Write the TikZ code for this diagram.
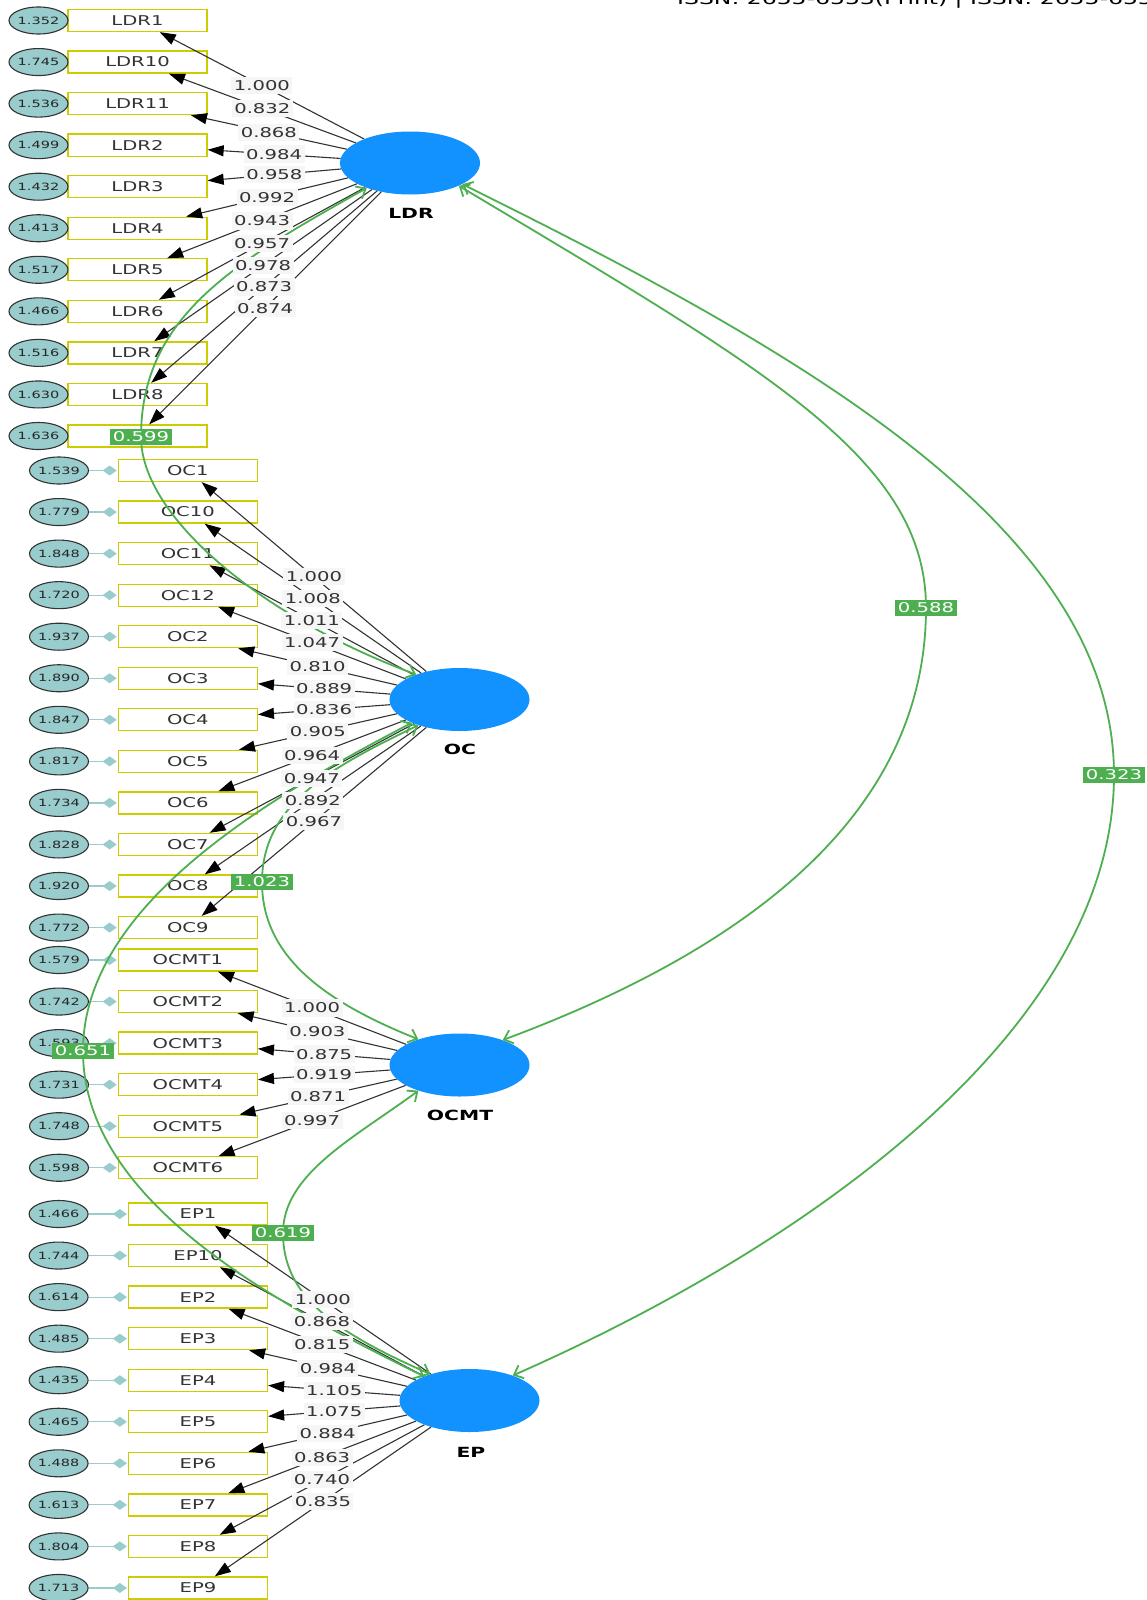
\documentclass[tikz,border=0pt]{standalone}
\usepackage{fontspec}
\setmainfont{DejaVu Sans}[FakeStretch=1.45]
\usetikzlibrary{arrows.meta,shapes.geometric}

\definecolor{latentblue}{RGB}{17,146,255}
\definecolor{covgreen}{RGB}{77,175,80}
\definecolor{boxyellow}{RGB}{204,204,0}
\definecolor{errteal}{RGB}{153,204,204}
\definecolor{inkgray}{RGB}{51,51,51}
\definecolor{lblgray}{RGB}{246,246,246}

\tikzset{
  latent/.style={ellipse, fill=latentblue, minimum width=140pt, minimum height=63pt, inner sep=0pt},
  latname/.style={font=\fontsize{14}{14}\selectfont\bfseries, text=black, inner sep=0pt},
  indbox/.style={rectangle, draw=boxyellow, line width=1.3pt, fill=white, minimum width=139pt,
    minimum height=22pt, inner sep=0pt, text=inkgray, font=\fontsize{13.5}{14}\selectfont},
  errell/.style={ellipse, draw=inkgray, line width=1.1pt, fill=errteal, minimum width=59pt,
    minimum height=27pt, inner sep=0pt, text=black!85, font=\fontsize{10}{10}\selectfont},
  errlink/.style={draw=errteal, line width=1.2pt, -{Diamond[length=14pt,width=10pt,fill=errteal]}, shorten >=1pt},
  loadline/.style={draw=inkgray, line width=1.1pt, -{Triangle[length=16pt,width=11pt,color=black]}},
  loadlbl/.style={fill=lblgray, text=inkgray, inner xsep=2.5pt, inner ysep=3.5pt,
    font=\fontsize{13.5}{14}\selectfont, pos=0.5},
  covline/.style={draw=covgreen, line width=1.8pt,
    {Straight Barb[length=8pt,width=14pt]}-{Straight Barb[length=8pt,width=14pt]}},
  covlbl/.style={fill=covgreen, text=white, inner xsep=3pt, inner ysep=3pt,
    font=\fontsize{13.5}{14}\selectfont},
}

% indicator name / printed text / error variance / loading
\def\ldrlist{ldr1/LDR1/1.352/1.000, ldr10/LDR10/1.745/0.832, ldr11/LDR11/1.536/0.868,
  ldr2/LDR2/1.499/0.984, ldr3/LDR3/1.432/0.958, ldr4/LDR4/1.413/0.992, ldr5/LDR5/1.517/0.943,
  ldr6/LDR6/1.466/0.957, ldr7/LDR7/1.516/0.978, ldr8/LDR8/1.630/0.873, ldr9//1.636/0.874}
\def\oclist{oc1/OC1/1.539/1.000, oc10/OC10/1.779/1.008, oc11/OC11/1.848/1.011,
  oc12/OC12/1.720/1.047, oc2/OC2/1.937/0.810, oc3/OC3/1.890/0.889, oc4/OC4/1.847/0.836,
  oc5/OC5/1.817/0.905, oc6/OC6/1.734/0.964, oc7/OC7/1.828/0.947, oc8/OC8/1.920/0.892,
  oc9/OC9/1.772/0.967}
\def\ocmtlist{ocmt1/OCMT1/1.579/1.000, ocmt2/OCMT2/1.742/0.903, ocmt3/OCMT3/1.593/0.875,
  ocmt4/OCMT4/1.731/0.919, ocmt5/OCMT5/1.748/0.871, ocmt6/OCMT6/1.598/0.997}
\def\eplist{ep1/EP1/1.466/1.000, ep10/EP10/1.744/0.868, ep2/EP2/1.614/0.815,
  ep3/EP3/1.485/0.984, ep4/EP4/1.435/1.105, ep5/EP5/1.465/1.075, ep6/EP6/1.488/0.884,
  ep7/EP7/1.613/0.863, ep8/EP8/1.804/0.740, ep9/EP9/1.713/0.835}

\begin{document}
\begin{tikzpicture}[x=1pt,y=-1pt]
\useasboundingbox (0,0) rectangle (1147,1600);
\fill[white] (0,0) rectangle (1147,1600);

% running header, cut by the top edge
\node[anchor=base west, inner sep=0pt, text=black, font=\fontsize{16.2}{17}\selectfont] (hdr) at (677,5)
  {ISSN: 2655-6553(Print) | ISSN: 2655-655};

% latent variables
\node[latent] (LDR) at (410,163) {};
\node[latname] (LDRname) at (411,213) {LDR};
\node[latent] (OC) at (459.5,699.5) {};
\node[latname] (OCname) at (460,749) {OC};
\node[latent] (OCMT) at (459.5,1065) {};
\node[latname] (OCMTname) at (460,1115) {OCMT};
\node[latent] (EP) at (469.5,1400.5) {};
\node[latname] (EPname) at (471,1452) {EP};

% indicators with their error terms
\foreach \nm/\tx/\ev/\ld [count=\k from 0] in \ldrlist {
  \node[indbox] (\nm) at (137.5,{20.5+41.55*\k}) {\tx};
  \node[errell] (e\nm) at (38.5,{20.5+41.55*\k}) {\ev};
}
\foreach \nm/\tx/\ev/\ld [count=\k from 0] in \oclist {
  \node[indbox] (\nm) at (187.8,{470.5+41.55*\k}) {\tx};
  \node[errell] (e\nm) at (59,{470.5+41.55*\k}) {\ev};
  \draw[errlink] (e\nm) -- (\nm);
}
\foreach \nm/\tx/\ev/\ld [count=\k from 0] in \ocmtlist {
  \node[indbox] (\nm) at (187.8,{960+41.55*\k}) {\tx};
  \node[errell] (e\nm) at (59,{960+41.55*\k}) {\ev};
  \draw[errlink] (e\nm) -- (\nm);
}
\foreach \nm/\tx/\ev/\ld [count=\k from 0] in \eplist {
  \node[indbox] (\nm) at (198,{1214+41.55*\k}) {\tx};
  \node[errell] (e\nm) at (58.6,{1214+41.55*\k}) {\ev};
  \draw[errlink] (e\nm) -- (\nm);
}

% factor loadings
\foreach \nm/\tx/\ev/\ld in \ldrlist {\draw[loadline] (LDR) -- (\nm);}
\foreach \nm/\tx/\ev/\ld in \oclist {\draw[loadline] (OC) -- (\nm);}
\foreach \nm/\tx/\ev/\ld in \ocmtlist {\draw[loadline] (OCMT) -- (\nm);}
\foreach \nm/\tx/\ev/\ld in \eplist {\draw[loadline] (EP) -- (\nm);}

% covariances between latent variables
\draw[covline] (LDR.210) .. controls (233,263) and (141,317) .. (141,437) coordinate (c599)
  .. controls (141,517) and (263,618) .. (OC.150);
\draw[covline] (OC.212) .. controls (332,767) and (262,804) .. (262,882) coordinate (c1023)
  .. controls (262,954) and (320,1000) .. (OCMT.148);
\draw[covline] (OC.206) .. controls (280,792) and (83,901) .. (83,1051) coordinate (c651)
  .. controls (83,1201) and (273,1302) .. (EP.152);
\draw[covline] (OCMT.212) .. controls (354,1138) and (283,1174) .. (283,1233) coordinate (c619)
  .. controls (283,1294) and (330,1330) .. (EP.146);
\draw[covline] (LDR.335) .. controls (763,368) and (926,458) .. (926,608) coordinate (c588)
  .. controls (926,808) and (758,945) .. (OCMT.30);
\draw[covline] (LDR.338) .. controls (793,348) and (1114,525) .. (1114,775) coordinate (c323)
  .. controls (1114,1025) and (818,1241) .. (EP.30);

% loading values
\foreach \nm/\tx/\ev/\ld in \ldrlist {\path (LDR) -- (\nm) node[loadlbl] {\ld};}
\foreach \nm/\tx/\ev/\ld in \oclist {\path (OC) -- (\nm) node[loadlbl] {\ld};}
\foreach \nm/\tx/\ev/\ld in \ocmtlist {\path (OCMT) -- (\nm) node[loadlbl] {\ld};}
\foreach \nm/\tx/\ev/\ld in \eplist {\path (EP) -- (\nm) node[loadlbl] {\ld};}

% covariance values
\node[covlbl] (v599) at (c599) {0.599};
\node[covlbl] (v1023) at (c1023) {1.023};
\node[covlbl] (v651) at (c651) {0.651};
\node[covlbl] (v619) at (c619) {0.619};
\node[covlbl] (v588) at (c588) {0.588};
\node[covlbl] (v323) at (c323) {0.323};
\end{tikzpicture}
\end{document}
